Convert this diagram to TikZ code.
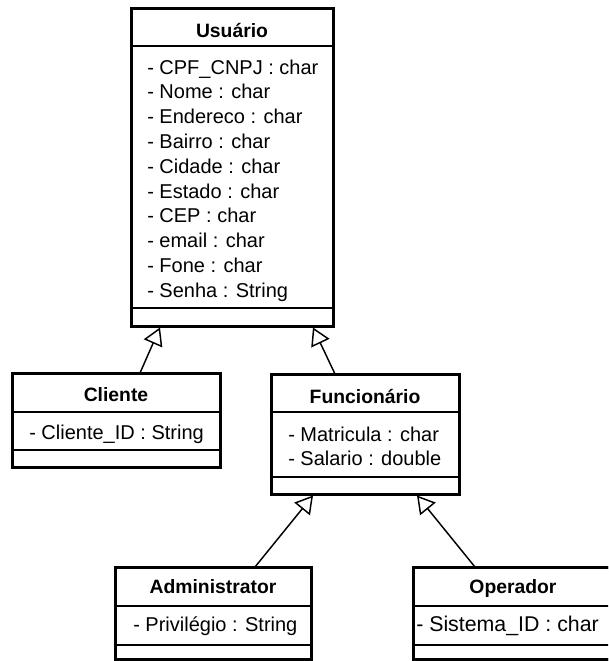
\documentclass[tikz,border=0pt]{standalone}
\usepackage{fontspec}
\setmainfont{Liberation Sans}
\usetikzlibrary{arrows.meta,fit}
\begin{document}
\begin{tikzpicture}[x=0.75pt,y=-0.75pt,
  classbox/.style={draw, line width=2.25pt, inner sep=0pt, fill=white},
  sepline/.style={line width=1.1pt},
  classtitle/.style={anchor=base, inner sep=0pt, font=\fontsize{14.5}{17}\selectfont\bfseries},
  attr/.style={anchor=base west, inner sep=0pt, font=\fontsize{15}{18}\selectfont},
  gen/.style={line width=1.1pt, -{Triangle[open, length=13pt, width=15pt, line width=1.1pt]}}]
\useasboundingbox (0,0) rectangle (608,661);
\clip (0,0) rectangle (608,661);

% ---------- class boxes ----------
\coordinate (usrNW) at (131,8);   \coordinate (usrSE) at (333,326);
\coordinate (cliNW) at (12,373);  \coordinate (cliSE) at (220,467);
\coordinate (funNW) at (271,374); \coordinate (funSE) at (459,494);
\coordinate (admNW) at (115,567); \coordinate (admSE) at (311,659.5);
\coordinate (opeNW) at (413,567); \coordinate (opeSE) at (630,659.5);

\node[classbox, fit=(usrNW)(usrSE)] (usr) {};
\node[classbox, fit=(cliNW)(cliSE)] (cli) {};
\node[classbox, fit=(funNW)(funSE)] (fun) {};
\node[classbox, fit=(admNW)(admSE)] (adm) {};
\node[classbox, fit=(opeNW)(opeSE)] (ope) {};

% compartment separators
\draw[sepline] (usr.west |- 0,46)  -- (usr.east |- 0,46);
\draw[sepline] (usr.west |- 0,308) -- (usr.east |- 0,308);
\draw[sepline] (cli.west |- 0,412) -- (cli.east |- 0,412);
\draw[sepline] (cli.west |- 0,450) -- (cli.east |- 0,450);
\draw[sepline] (fun.west |- 0,412) -- (fun.east |- 0,412);
\draw[sepline] (fun.west |- 0,477) -- (fun.east |- 0,477);
\draw[sepline] (adm.west |- 0,606) -- (adm.east |- 0,606);
\draw[sepline] (adm.west |- 0,645) -- (adm.east |- 0,645);
\draw[sepline] (ope.west |- 0,606) -- (ope.east |- 0,606);
\draw[sepline] (ope.west |- 0,645) -- (ope.east |- 0,645);

% redraw borders above the separators
\draw[line width=2.25pt] (usrNW) rectangle (usrSE);
\draw[line width=2.25pt] (cliNW) rectangle (cliSE);
\draw[line width=2.25pt] (funNW) rectangle (funSE);
\draw[line width=2.25pt] (admNW) rectangle (admSE);
\draw[line width=2.25pt] (opeNW) rectangle (opeSE);

% ---------- titles ----------
\node[classtitle] (usrT) at (232,37)  {Usuário};
\node[classtitle] (cliT) at (116,401) {Cliente};
\node[classtitle] (funT) at (365,403) {Funcionário};
\node[classtitle] (admT) at (213,593) {Administrator};
\node[classtitle] (opeT) at (513,593) {Operador};

% ---------- attributes ----------
\node[attr] (u1)  at (147,74.0)  {- CPF\_CNPJ : char};
\node[attr] (u2)  at (147,98.8)  {- Nome : char};
\node[attr] (u3)  at (147,123.6) {- Endereco : char};
\node[attr] (u4)  at (147,148.4) {- Bairro : char};
\node[attr] (u5)  at (147,173.2) {- Cidade : char};
\node[attr] (u6)  at (147,198.0) {- Estado : char};
\node[attr] (u7)  at (147,222.8) {- CEP : char};
\node[attr] (u8)  at (147,247.6) {- email : char};
\node[attr] (u9)  at (147,272.4) {- Fone : char};
\node[attr] (u10) at (147,297.2) {- Senha : String};

\node[attr] (c1) at (29,439)  {- Cliente\_ID : String};
\node[attr] (f1) at (288,441) {- Matricula : char};
\node[attr] (f2) at (288,465) {- Salario : double};
\node[attr] (a1) at (133,631) {- Privilégio : String};
\node[attr, font=\fontsize{16}{19}\selectfont] (o1) at (416,631) {- Sistema\_ID : char};

% ---------- generalization connectors ----------
\coordinate (cliUp)  at (140,373);  \coordinate (usrL) at (160,327.5);
\coordinate (funUp)  at (335,374);  \coordinate (usrR) at (313,327.5);
\coordinate (admUp)  at (255,567);  \coordinate (funL) at (313,495.5);
\coordinate (opeUp)  at (475,567);  \coordinate (funR) at (417,495.5);

\draw[gen] (cliUp) -- (usrL);
\draw[gen] (funUp) -- (usrR);
\draw[gen] (admUp) -- (funL);
\draw[gen] (opeUp) -- (funR);
\end{tikzpicture}
\end{document}
